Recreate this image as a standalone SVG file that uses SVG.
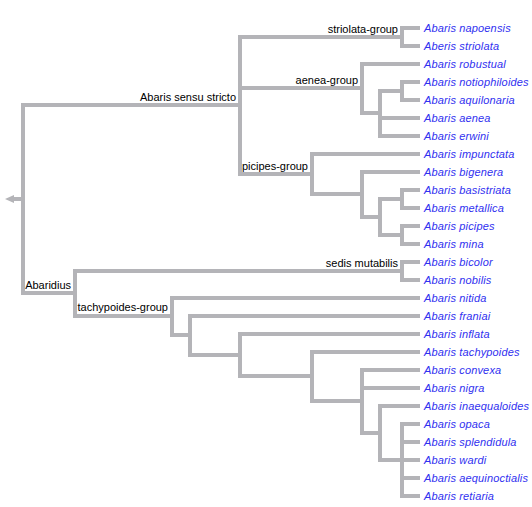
<svg xmlns="http://www.w3.org/2000/svg" width="532" height="507" viewBox="0 0 532 507">
<style>
.ln{stroke:#b4b4b8;stroke-width:4;fill:none;stroke-linecap:butt}
.v{stroke-linecap:square}
.leaf{font-family:"Liberation Sans",Arial,sans-serif;font-size:11px;font-style:italic;fill:#3030f0;letter-spacing:0.15px}
.lbl{font-family:"Liberation Sans",Arial,sans-serif;font-size:11px;fill:#000;text-anchor:end}
</style>
<rect width="532" height="507" fill="#fff"/>
<g id="connectors">
<polygon points="5,199 14,195 14,203" fill="#b4b4b8"/>
<path class="ln" d="M14,199H23"/>
<path class="ln v" d="M23,105V293 M240,37V174 M402,28V46 M362,64V113 M380,91V136 M402,82V100 M312,154V194 M362,172V217 M380,199V235 M402,190V208 M402,226V244 M75,271V316 M402,262V280 M172,298V335 M190,316V355 M240,334V376 M312,352V401 M362,370V433 M380,406V460 M402,424V496"/>
<path class="ln" d="M23,105H240 M240,37H402 M240,88H362 M362,113H380 M380,91H402 M240,174H312 M312,194H362 M362,217H380 M380,199H402 M380,235H402 M23,293H75 M75,271H402 M75,316H172 M172,335H190 M190,355H240 M240,376H312 M312,401H362 M362,433H380 M380,460H402"/>
<path class="ln" d="M402,28H420 M402,46H420 M362,64H420 M402,82H420 M402,100H420 M380,118H420 M380,136H420 M312,154H420 M362,172H420 M402,190H420 M402,208H420 M402,226H420 M402,244H420 M402,262H420 M402,280H420 M172,298H420 M190,316H420 M240,334H420 M312,352H420 M362,370H420 M362,388H420 M380,406H420 M402,424H420 M402,442H420 M402,460H420 M402,478H420 M402,496H420"/>
</g>
<g id="node-sensu-stricto"><text class="lbl" x="236" y="101">Abaris sensu stricto</text></g>
<g id="node-striolata-group"><text class="lbl" x="398" y="33">striolata-group</text></g>
<g id="node-aenea-group"><text class="lbl" x="358" y="84">aenea-group</text></g>
<g id="node-picipes-group"><text class="lbl" x="308" y="170">picipes-group</text></g>
<g id="node-abaridius"><text class="lbl" x="71" y="289">Abaridius</text></g>
<g id="node-sedis-mutabilis"><text class="lbl" x="398" y="267">sedis mutabilis</text></g>
<g id="node-tachypoides-group"><text class="lbl" x="168" y="311">tachypoides-group</text></g>
<g id="leaf-napoensis"><text class="leaf" x="424" y="32">Abaris napoensis</text></g>
<g id="leaf-striolata"><text class="leaf" x="424" y="50">Aberis striolata</text></g>
<g id="leaf-robustual"><text class="leaf" x="424" y="68">Abaris robustual</text></g>
<g id="leaf-notiophiloides"><text class="leaf" x="424" y="86">Abaris notiophiloides</text></g>
<g id="leaf-aquilonaria"><text class="leaf" x="424" y="104">Abaris aquilonaria</text></g>
<g id="leaf-aenea"><text class="leaf" x="424" y="122">Abaris aenea</text></g>
<g id="leaf-erwini"><text class="leaf" x="424" y="140">Abaris erwini</text></g>
<g id="leaf-impunctata"><text class="leaf" x="424" y="158">Abaris impunctata</text></g>
<g id="leaf-bigenera"><text class="leaf" x="424" y="176">Abaris bigenera</text></g>
<g id="leaf-basistriata"><text class="leaf" x="424" y="194">Abaris basistriata</text></g>
<g id="leaf-metallica"><text class="leaf" x="424" y="212">Abaris metallica</text></g>
<g id="leaf-picipes"><text class="leaf" x="424" y="230">Abaris picipes</text></g>
<g id="leaf-mina"><text class="leaf" x="424" y="248">Abaris mina</text></g>
<g id="leaf-bicolor"><text class="leaf" x="424" y="266">Abaris bicolor</text></g>
<g id="leaf-nobilis"><text class="leaf" x="424" y="284">Abaris nobilis</text></g>
<g id="leaf-nitida"><text class="leaf" x="424" y="302">Abaris nitida</text></g>
<g id="leaf-franiai"><text class="leaf" x="424" y="320">Abaris franiai</text></g>
<g id="leaf-inflata"><text class="leaf" x="424" y="338">Abaris inflata</text></g>
<g id="leaf-tachypoides"><text class="leaf" x="424" y="356">Abaris tachypoides</text></g>
<g id="leaf-convexa"><text class="leaf" x="424" y="374">Abaris convexa</text></g>
<g id="leaf-nigra"><text class="leaf" x="424" y="392">Abaris nigra</text></g>
<g id="leaf-inaequaloides"><text class="leaf" x="424" y="410">Abaris inaequaloides</text></g>
<g id="leaf-opaca"><text class="leaf" x="424" y="428">Abaris opaca</text></g>
<g id="leaf-splendidula"><text class="leaf" x="424" y="446">Abaris splendidula</text></g>
<g id="leaf-wardi"><text class="leaf" x="424" y="464">Abaris wardi</text></g>
<g id="leaf-aequinoctialis"><text class="leaf" x="424" y="482">Abaris aequinoctialis</text></g>
<g id="leaf-retiaria"><text class="leaf" x="424" y="500">Abaris retiaria</text></g>
</svg>
